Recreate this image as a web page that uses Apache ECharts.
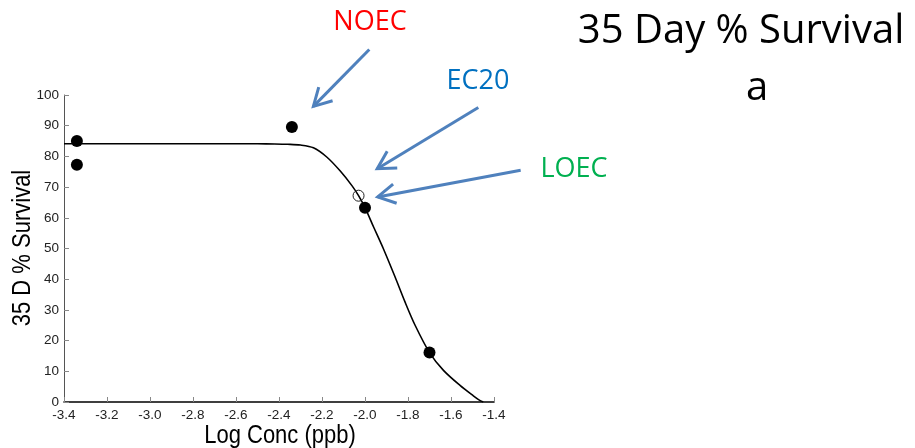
<!DOCTYPE html>
<html><head><meta charset="utf-8">
<script src="https://cdn.jsdelivr.net/npm/echarts@6/dist/echarts.min.js"></script>
<style>html,body{margin:0;padding:0;background:#fff}#c{width:915px;height:448px}</style>
</head><body><div id="c"></div>
<script>
// Observed data (log concentration, % survival)
const obsConc = [-3.34, -3.34, -2.34, -2.00, -1.70];
const obsSurvival = [85.0, 77.3, 89.6, 63.3, 16.1];
// EC20 estimate (open circle)
const ec20Conc = [-2.03];
const ec20Survival = [67.2];
// Fitted dose-response curve
const fitConc = [-3.40, -2.80, -2.50, -2.42, -2.36, -2.30, -2.24, -2.178, -2.116, -2.06, -2.03, -2.00, -1.96, -1.915, -1.86, -1.814, -1.767, -1.70, -1.635, -1.558, -1.496, -1.47, -1.45];
const fitSurvival = [84.1, 84.1, 84.1, 84.05, 83.95, 83.7, 82.8, 79.8, 75.3, 70.4, 67.2, 63.3, 57.0, 50.0, 40.7, 32.6, 25.0, 16.1, 10.3, 5.4, 2.0, 0.7, 0.0];
// Axis ticks
const xMin = -3.4, xMax = -1.4, xStep = 0.2;
const yMin = 0, yMax = 100, yStep = 10;
// Annotation labels and arrows (arrows given in data coordinates)
const annLabels = ['NOEC', 'EC20', 'LOEC'];
const annColors = ['#ff0000', '#0070c0', '#00b050'];
const arrowFrom = [[-1.98, 114.8], [-1.473, 95.9], [-1.276, 75.5]];
const arrowTo = [[-2.24, 96.3], [-1.943, 76.0], [-1.941, 66.8]];

const chart = echarts.init(document.getElementById('c'), null, {renderer: 'canvas'});
const zip = (a, b) => a.map((v, i) => [v, b[i]]);

chart.setOption({
  animation: false,
  backgroundColor: '#fff',
  grid: {left: 64, right: 421, top: 95, bottom: 46, containLabel: false},
  xAxis: {
    type: 'value', min: xMin, max: xMax, interval: xStep,
    axisLine: {show: true, onZero: false, lineStyle: {color: '#000', width: 1.6}},
    axisTick: {show: true, inside: true, length: 5, lineStyle: {color: '#888', width: 1}},
    axisLabel: {color: '#222', fontSize: 13.5, fontFamily: 'Liberation Sans, Arial, sans-serif', margin: 6,
      formatter: v => v.toFixed(1)},
    splitLine: {show: false}
  },
  yAxis: {
    type: 'value', min: yMin, max: yMax, interval: yStep,
    axisLine: {show: true, onZero: false, lineStyle: {color: '#555', width: 1}},
    axisTick: {show: true, inside: true, length: 5, lineStyle: {color: '#888', width: 1}},
    axisLabel: {color: '#222', fontSize: 13.5, fontFamily: 'Liberation Sans, Arial, sans-serif', margin: 5},
    splitLine: {show: false}
  },
  series: [
    {type: 'line', data: zip(fitConc, fitSurvival), showSymbol: false, smooth: 0.3,
     lineStyle: {color: '#000', width: 1.6}, z: 2},
    {type: 'scatter', data: zip(ec20Conc, ec20Survival), symbol: 'circle', symbolSize: 11,
     itemStyle: {color: 'rgba(255,255,255,0)', borderColor: '#222', borderWidth: 1, opacity: 1}, z: 3},
    {type: 'scatter', data: zip(obsConc, obsSurvival), symbol: 'circle', symbolSize: 12,
     itemStyle: {color: '#000', opacity: 1}, z: 4}
  ]
});

// Build annotation graphics
const graphics = [];
const font = (size, fam) => size + 'px ' + fam;
// Title
graphics.push({type: 'text', x: 741, y: 32, style: {text: '35 Day % Survival', font: font(40, '"Open Sans"'), fill: '#000', textAlign: 'center', textVerticalAlign: 'middle'}});
graphics.push({type: 'text', x: 757, y: 89, style: {text: 'a', font: font(40, '"Open Sans"'), fill: '#000', textAlign: 'center', textVerticalAlign: 'middle'}});
// Annotation labels
const labelPos = [[370, 22], [478, 81], [574, 169]];
annLabels.forEach((t, i) => {
  graphics.push({type: 'text', x: labelPos[i][0], y: labelPos[i][1], style: {text: t, font: font(27, '"Open Sans"'), fill: annColors[i], textAlign: 'center', textVerticalAlign: 'middle'}});
});
// Arrows
arrowFrom.forEach((f, i) => {
  const p0 = chart.convertToPixel({gridIndex: 0}, f);
  const p1 = chart.convertToPixel({gridIndex: 0}, arrowTo[i]);
  const ang = Math.atan2(p0[1] - p1[1], p0[0] - p1[0]);
  const L = 20, th = Math.PI / 6.2;
  const a1 = [p1[0] + L * Math.cos(ang + th), p1[1] + L * Math.sin(ang + th)];
  const a2 = [p1[0] + L * Math.cos(ang - th), p1[1] + L * Math.sin(ang - th)];
  const st = {stroke: '#4f81bd', lineWidth: 3, fill: null, lineCap: 'butt', lineJoin: 'miter'};
  graphics.push({type: 'polyline', shape: {points: [p0, p1]}, style: st});
  graphics.push({type: 'polyline', shape: {points: [a1, p1, a2]}, style: st});
});
// Axis titles (slightly stretched vertically as in the original)
graphics.push({type: 'text', x: 280, y: 436, scaleY: 1.2, style: {text: 'Log Conc (ppb)', font: font(22, 'Liberation Sans, Arial, sans-serif'), fill: '#000', textAlign: 'center', textVerticalAlign: 'middle'}});
graphics.push({type: 'text', x: 23, y: 248, rotation: Math.PI / 2, scaleY: 1.2, style: {text: '35 D % Survival', font: font(22, 'Liberation Sans, Arial, sans-serif'), fill: '#000', textAlign: 'center', textVerticalAlign: 'middle'}});

chart.setOption({graphic: graphics});
</script>
</body></html>
